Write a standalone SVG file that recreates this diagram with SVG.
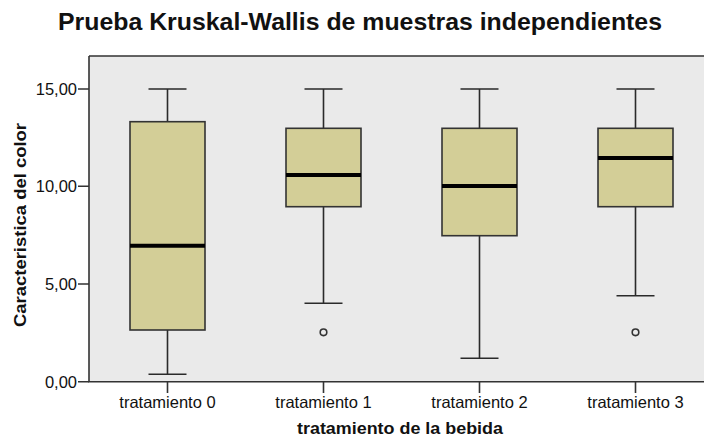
<svg xmlns="http://www.w3.org/2000/svg" width="704" height="438" viewBox="0 0 704 438">
<style>
text{font-family:"Liberation Sans",Arial,sans-serif;fill:#111}
.title{font-size:24px;font-weight:bold}
.tick{font-size:16.5px}
.axt{font-size:16px;font-weight:bold}
.box{fill:#D3CE97;stroke:#333;stroke-width:1.6}
.wh{stroke:#2a2a2a;stroke-width:1.6;fill:none}
.med{stroke:#000;stroke-width:4}
.out{fill:none;stroke:#333;stroke-width:1.6}
.ax{stroke:#333;stroke-width:1.6;fill:none}
</style>
<rect width="704" height="438" fill="#fff"/>
<text class="title" x="58" y="30" textLength="604" lengthAdjust="spacingAndGlyphs">Prueba Kruskal-Wallis de muestras independientes</text>
<g id="plot-area">
<rect x="89" y="56" width="620" height="325.7" fill="#EAEAEA"/>
<path class="ax" d="M89,56H704M89,56V381.7H704"/>
</g>
<g id="y-axis">
<path class="ax" d="M78,89H89M78,186.3H89M78,284H89M78,381.7H89"/>
<text class="tick" x="77" y="95" text-anchor="end">15,00</text>
<text class="tick" x="77" y="192.3" text-anchor="end">10,00</text>
<text class="tick" x="77" y="290" text-anchor="end">5,00</text>
<text class="tick" x="77" y="387.7" text-anchor="end">0,00</text>
<text class="axt" transform="translate(26,225) rotate(-90)" text-anchor="middle" textLength="204" lengthAdjust="spacingAndGlyphs">Caracteristica del color</text>
</g>
<g id="x-axis">
<path class="ax" d="M167.5,381.7V393M323.5,381.7V393M479.5,381.7V393M635.5,381.7V393"/>
<text class="tick" x="167.5" y="408" text-anchor="middle">tratamiento 0</text>
<text class="tick" x="323.5" y="408" text-anchor="middle">tratamiento 1</text>
<text class="tick" x="479.5" y="408" text-anchor="middle">tratamiento 2</text>
<text class="tick" x="635.5" y="408" text-anchor="middle">tratamiento 3</text>
<text class="axt" x="400" y="434" text-anchor="middle" textLength="206" lengthAdjust="spacingAndGlyphs">tratamiento de la bebida</text>
</g>
<g id="tratamiento-0">
<path class="wh" d="M148.5,89H186.5M167.5,89V121.7M167.5,330V374.3M148.5,374.3H186.5"/>
<rect class="box" x="130" y="121.7" width="75" height="208.3"/>
<path class="med" d="M130,245.7H205"/>
</g>
<g id="tratamiento-1">
<path class="wh" d="M304.5,89H342.5M323.5,89V128.3M323.5,206.7V303.3M304.5,303.3H342.5"/>
<rect class="box" x="286" y="128.3" width="75" height="78.4"/>
<path class="med" d="M286,175H361"/>
<circle class="out" cx="323.5" cy="332.3" r="3.3"/>
</g>
<g id="tratamiento-2">
<path class="wh" d="M460.5,89H498.5M479.5,89V128.3M479.5,235.7V358.3M460.5,358.3H498.5"/>
<rect class="box" x="442" y="128.3" width="75" height="107.4"/>
<path class="med" d="M442,186H517"/>
</g>
<g id="tratamiento-3">
<path class="wh" d="M616.5,89H654.5M635.5,89V128.3M635.5,206.7V295.7M616.5,295.7H654.5"/>
<rect class="box" x="598" y="128.3" width="75" height="78.4"/>
<path class="med" d="M598,158H673"/>
<circle class="out" cx="635.5" cy="332.3" r="3.3"/>
</g>
</svg>
